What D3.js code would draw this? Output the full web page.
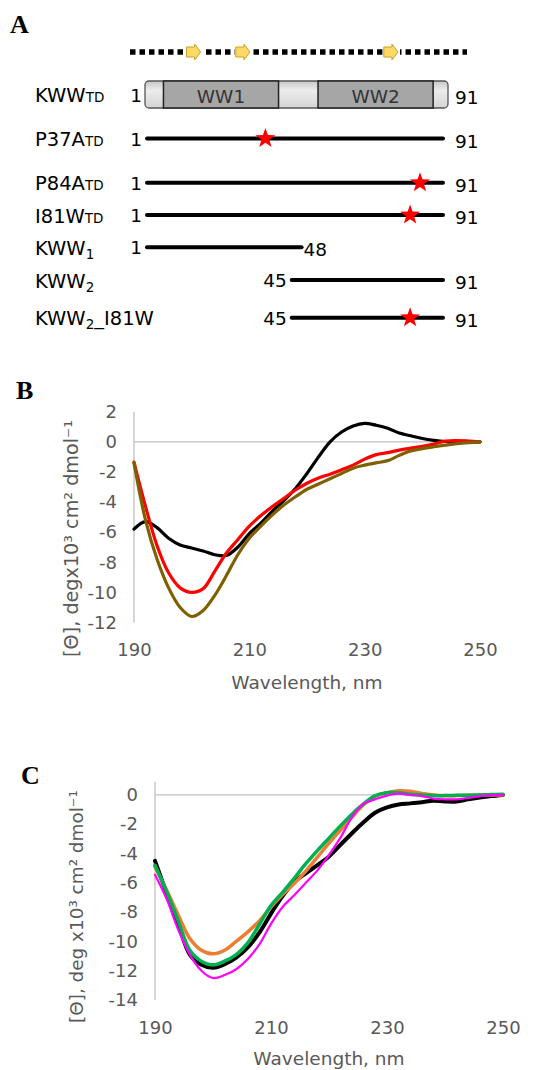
<!DOCTYPE html>
<html><head><meta charset="utf-8">
<script src="https://cdn.jsdelivr.net/npm/d3@7"></script>
<style>
body{margin:0;background:#fff}
svg{display:block}
text{font-family:"DejaVu Sans",Verdana,sans-serif}
</style>
</head><body>
<svg id="c" width="557" height="1070"></svg>
<script>
// ---------- Panel A data ----------
const constructMain   = ["KWW","P37A","P84A","I81W","KWW","KWW","KWW"];
const constructSub    = ["TD","TD","TD","TD","1","2","2"];
const constructSuffix = ["","","","","","","_I81W"];
const constructStart  = [1,1,1,1,1,45,45];
const constructEnd    = [91,91,91,91,48,91,91];
const mutationSite    = [null,37,84,81,null,null,81];
const domainNames = ["WW1","WW2"];
const domainStart = [6,53];
const domainEnd   = [41,88];
const strandStart = [13,28,73];
const strandEnd   = [17,32,77];

// ---------- Panel B / C data ----------
const wavelengths = [190,192,194,196,198,200,202,204,206,208,210,212,214,216,218,220,222,224,226,228,230,232,234,236,238,240,242,244,246,248,250];
const bBlack = [-5.8,-5.3,-5.7,-6.4,-6.85,-7.05,-7.25,-7.5,-7.55,-7.0,-6.1,-5.4,-4.6,-3.9,-3.1,-2.1,-1.0,0.0,0.65,1.05,1.23,1.1,0.9,0.58,0.4,0.22,0.1,0.02,0.0,0.0,0.0];
const bRed   = [-1.35,-4.3,-6.9,-8.7,-9.7,-10.0,-9.75,-8.6,-7.4,-6.5,-5.6,-4.9,-4.3,-3.75,-3.2,-2.75,-2.4,-2.15,-1.85,-1.55,-1.15,-0.85,-0.72,-0.55,-0.42,-0.3,-0.15,0.05,0.08,0.05,0.0];
const bOlive = [-1.4,-5.2,-7.8,-9.7,-11.0,-11.6,-11.2,-10.2,-8.9,-7.5,-6.4,-5.6,-4.85,-4.2,-3.65,-3.15,-2.8,-2.45,-2.1,-1.75,-1.55,-1.4,-1.25,-0.9,-0.6,-0.45,-0.33,-0.22,-0.12,-0.05,0.0];
const cBlack   = [-4.5,-6.7,-8.8,-10.9,-11.6,-11.8,-11.55,-11.1,-10.4,-9.4,-8.1,-6.9,-5.95,-5.35,-4.8,-4.2,-3.4,-2.6,-1.85,-1.2,-0.85,-0.65,-0.58,-0.5,-0.4,-0.45,-0.45,-0.3,-0.18,-0.08,0.0];
const cOrange  = [-4.9,-6.5,-8.2,-9.8,-10.6,-10.85,-10.6,-10.0,-9.35,-8.6,-7.65,-6.8,-6.05,-5.2,-4.25,-3.3,-2.4,-1.5,-0.65,-0.1,0.15,0.28,0.25,0.1,0.0,-0.05,-0.05,-0.03,0.0,0.0,0.0];
const cGreen   = [-4.8,-6.6,-8.6,-10.6,-11.35,-11.6,-11.35,-10.9,-10.1,-8.85,-7.55,-6.65,-5.7,-4.7,-3.8,-2.95,-2.1,-1.3,-0.6,-0.05,0.15,0.15,0.05,0.0,-0.05,-0.05,-0.03,-0.02,0.0,0.02,0.05];
const cMagenta = [-5.45,-7.1,-9.2,-10.9,-12.0,-12.5,-12.3,-11.9,-11.2,-10.2,-8.8,-7.65,-6.85,-6.0,-5.15,-4.1,-2.9,-1.5,-0.6,-0.3,-0.05,0.08,0.0,-0.08,-0.25,-0.3,-0.3,-0.2,-0.08,-0.02,0.0];
const bYTicks = [2,0,-2,-4,-6,-8,-10,-12];
const cYTicks = [0,-2,-4,-6,-8,-10,-12,-14];
const xTicks = [190,210,230,250];
const xTitle = "Wavelength, nm";
const bYTitle = "[Θ], degx10³ cm² dmol⁻¹";
const cYTitle = "[Θ], deg x10³ cm² dmol⁻¹";

const svg = d3.select("#c");
const GRAY = "#595959";

// ---------- Panel letters ----------
const letters = [["A",10,33],["B",16,399],["C",21,784]];
svg.selectAll("text.letter").data(letters).join("text")
  .attr("class","letter").attr("x",d=>d[1]).attr("y",d=>d[2])
  .style("font-family",'"Liberation Serif","Times New Roman",serif')
  .style("font-weight","bold").style("font-size","26px").attr("fill","#000")
  .text(d=>d[0]);

// ---------- Panel A ----------
const xRes = d3.scaleLinear().domain([1,91]).range([147,443]);
const rowY = [94.5,138.5,182.7,215,247.3,280,317.7];

const gA = svg.append("g");
gA.append("line").attr("x1",130).attr("x2",467).attr("y1",52).attr("y2",52)
  .attr("stroke","#000").attr("stroke-width",5.5).attr("stroke-dasharray","5.5,4");
const arrowG = gA.selectAll("g.strand").data(strandStart.map((s,i)=>[s,strandEnd[i]])).join("g");
arrowG.append("rect").attr("x",d=>xRes(d[0])-1).attr("y",44).attr("width",d=>xRes(d[1])-xRes(d[0])+4).attr("height",16).attr("fill","#fff");
arrowG.append("path").attr("d",d=>{
  const x0=xRes(d[0]), x1=xRes(d[1])+1, xm=x1-6;
  return `M${x0},47 L${xm},47 L${xm},44 L${x1},52 L${xm},60 L${xm},57 L${x0},57 Z`;
}).attr("fill","#ffd966").attr("stroke","#c9a227").attr("stroke-width",1);

const defs = svg.append("defs");
const grad = defs.append("linearGradient").attr("id","boxg").attr("x1",0).attr("x2",0).attr("y1",0).attr("y2",1);
grad.append("stop").attr("offset","0%").attr("stop-color","#c8c8c8");
grad.append("stop").attr("offset","35%").attr("stop-color","#ececec");
grad.append("stop").attr("offset","100%").attr("stop-color","#d4d4d4");
gA.append("rect").attr("x",xRes(1)-2).attr("y",81).attr("width",xRes(91)-xRes(1)+7).attr("height",27)
  .attr("rx",4).attr("fill","url(#boxg)").attr("stroke","#555").attr("stroke-width",1.3);
const dom = gA.selectAll("g.dom").data(domainNames.map((n,i)=>({n,s:domainStart[i],e:domainEnd[i]}))).join("g");
dom.append("rect").attr("x",d=>xRes(d.s)).attr("y",81).attr("width",d=>xRes(d.e)-xRes(d.s)).attr("height",27)
  .attr("fill","#a6a6a6").attr("stroke","#222").attr("stroke-width",1.5);
dom.append("text").attr("x",d=>(xRes(d.s)+xRes(d.e))/2).attr("y",102.5).attr("text-anchor","middle")
  .style("font-size","18.5px").attr("fill","#333").text(d=>d.n);

const rows = constructMain.map((m,i)=>({m,sub:constructSub[i],suf:constructSuffix[i],s:constructStart[i],e:constructEnd[i],mut:mutationSite[i],y:rowY[i],i}));
const rg = gA.selectAll("g.row").data(rows).join("g");
rg.each(function(d){
  const g = d3.select(this);
  const t = g.append("text").attr("x",35).attr("y",d.y+7.5).attr("fill","#000").style("font-size","19.5px");
  t.append("tspan").text(d.m);
  if(d.sub==="TD"){
    t.append("tspan").style("font-size","13.5px").text(d.sub);
  } else {
    t.append("tspan").style("font-size","13.5px").attr("dy",4).text(d.sub);
    if(d.suf) t.append("tspan").attr("dy",-4).text(d.suf);
  }
  if(d.i>0){
    g.append("line").attr("x1",xRes(d.s)).attr("x2",xRes(d.e)).attr("y1",d.y).attr("y2",d.y)
      .attr("stroke","#000").attr("stroke-width",4).attr("stroke-linecap","round");
  }
  g.append("text").attr("x",xRes(d.s)-5).attr("y",d.y+7).attr("text-anchor","end").style("font-size","18.5px").text(d.s);
  g.append("text").attr("x",xRes(d.e)+(d.i===4?2:12)).attr("y",d.y+9).style("font-size","18.5px").text(d.e);
  if(d.mut!==null){
    const R=10.5, r=4.2; const p=[];
    for(let k=0;k<10;k++){const a=-Math.PI/2+k*Math.PI/5; const rr=k%2?r:R; p.push([rr*Math.cos(a),rr*Math.sin(a)]);}
    g.append("path").attr("d","M"+p.join("L")+"Z").attr("transform",`translate(${xRes(d.mut)},${d.y})`).attr("fill","#ff0000");
  }
});

// ---------- CD chart helper ----------
function cdChart(o){
  const x = d3.scaleLinear().domain([190,250]).range(o.xr);
  const y = d3.scaleLinear().domain(o.yd).range(o.yr);
  const g = svg.append("g");
  g.append("line").attr("x1",x(190)).attr("x2",x(250)).attr("y1",y(0)).attr("y2",y(0)).attr("stroke","#bfbfbf").attr("stroke-width",1.3);
  g.append("line").attr("x1",x(190)).attr("x2",x(190)).attr("y1",o.yr[1]).attr("y2",o.yr[0]).attr("stroke","#bfbfbf").attr("stroke-width",1.3);
  const ya = g.append("g").attr("transform",`translate(${x(190)},0)`)
    .call(d3.axisLeft(y).tickValues(o.yTicks).tickSize(0).tickPadding(17).tickFormat(d=>String(d)));
  ya.select(".domain").remove();
  ya.selectAll("text").style("font-size","18px").style("font-family",'"DejaVu Sans",Verdana,sans-serif').attr("fill",GRAY);
  const xa = g.append("g").attr("transform",`translate(0,${o.xLabY})`)
    .call(d3.axisBottom(x).tickValues(xTicks).tickSize(0).tickPadding(0));
  xa.select(".domain").remove();
  xa.selectAll("text").attr("dy","0.35em").style("font-size","18px").style("font-family",'"DejaVu Sans",Verdana,sans-serif').attr("fill",GRAY);
  g.append("text").attr("x",o.xtX).attr("y",o.xtY).attr("text-anchor","middle").attr("dominant-baseline","central")
    .style("font-size","18.5px").attr("fill",GRAY).text(xTitle);
  const yt = g.append("text").attr("transform",`translate(${o.ytX},${o.ytY}) rotate(-90)`).attr("text-anchor","middle")
    .attr("dominant-baseline","central").style("font-size","19px").attr("fill",GRAY).text(o.yTitle);
  const L = yt.node().getComputedTextLength();
  yt.style("font-size",(19*o.ytLen/L)+"px");
  const line = d3.line().x((d,i)=>x(wavelengths[i])).y(d=>y(d)).curve(d3.curveCatmullRom.alpha(0.5));
  o.series.forEach(s=>{
    g.append("path").attr("d",line(s.v)).attr("fill","none").attr("stroke",s.c).attr("stroke-width",s.w)
      .attr("stroke-linejoin","round").attr("stroke-linecap","round");
  });
}

cdChart({xr:[134,480], yd:[-12,2], yr:[622.5,411.7], yTicks:bYTicks, xLabY:650, xtX:307, xtY:682,
  ytX:71, ytY:538.5, ytLen:237, yTitle:bYTitle,
  series:[{v:bBlack,c:"#000",w:3.2},{v:bRed,c:"#ff0000",w:3.2},{v:bOlive,c:"#7f6000",w:3.2}]});

cdChart({xr:[155,503], yd:[-14,0.9], yr:[1000,781.7], yTicks:cYTicks, xLabY:1028, xtX:329, xtY:1058,
  ytX:76, ytY:906.5, ytLen:233, yTitle:cYTitle,
  series:[{v:cBlack,c:"#000",w:4},{v:cOrange,c:"#ed7d31",w:3.5},{v:cGreen,c:"#00b050",w:3.5},{v:cMagenta,c:"#ff00ff",w:2.2}]});
</script>
</body></html>
